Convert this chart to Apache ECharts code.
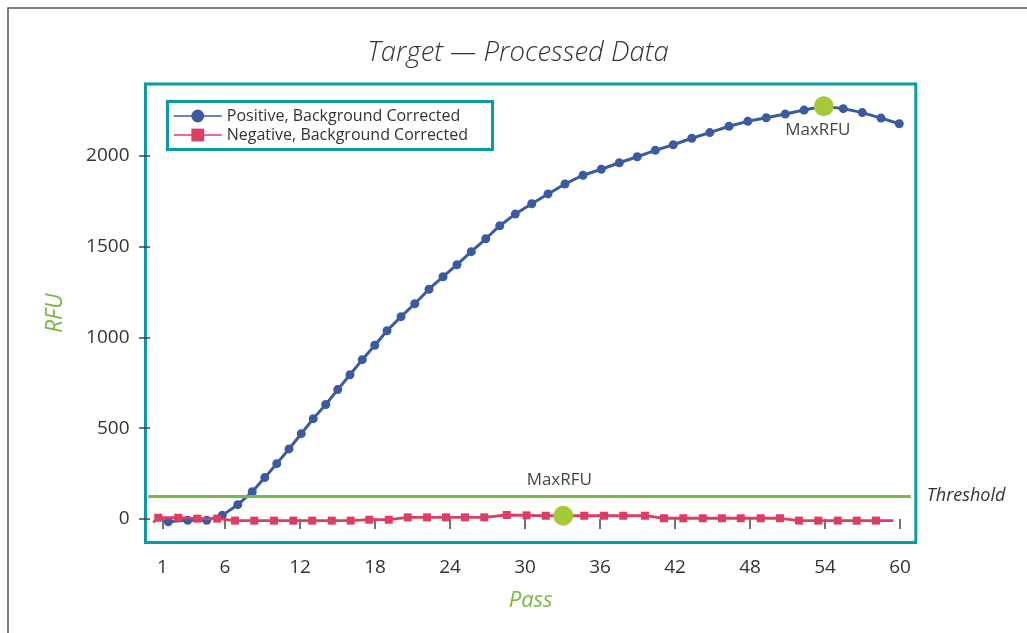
<!DOCTYPE html>
<html><head><meta charset="utf-8">
<script src="https://cdn.jsdelivr.net/npm/echarts@6/dist/echarts.min.js"></script>
<style>html,body{margin:0;padding:0;background:#fff}#c{width:1027px;height:633px}</style>
</head><body><div id="c"></div>
<script>
// ---- data ----
const passTicks = [1, 6, 12, 18, 24, 30, 36, 42, 48, 54, 60];
const rfuTicks = [0, 500, 1000, 1500, 2000];

const positivePass = [1.46,3.02,4.54,5.78,7.02,8.18,9.18,10.14,11.12,12.10,13.06,14.06,15.02,16.0,16.98,17.98,18.96,20.08,21.18,22.32,23.44,24.56,25.70,26.86,27.98,29.22,30.54,31.84,33.2,34.64,36.10,37.54,38.98,40.42,41.86,43.34,44.78,46.32,47.82,49.30,50.82,52.32,53.90,55.46,56.98,58.48,59.94];
const positiveRFU = [-15,-7,-7,20,79,150,228,305,386,470,553,631,713,795,878,957,1037,1115,1186,1266,1335,1401,1473,1544,1616,1680,1737,1791,1846,1894,1927,1963,1996,2031,2062,2098,2129,2164,2191,2211,2231,2253,2274,2261,2239,2209,2178];

const negativePass = [0.66,2.26,3.78,5.38,6.8,8.34,9.92,11.46,12.98,14.54,16.06,17.54,19.10,20.62,22.16,23.68,25.20,26.74,28.54,30.12,31.66,33.06,34.74,36.32,37.86,39.6,41.12,42.66,44.22,45.76,47.26,48.86,50.4,51.92,53.46,55.02,56.54,58.08];
const negativeRFU = [7,7,2,2,-9,-9,-9,-9,-9,-9,-9,-4,-4,9,9,9,9,9,22,20,18,18,18,18,18,18,4,4,4,4,4,4,4,-9,-9,-9,-9,-9];
const negativeLineStart = [0.26, -19];
const negativeLineEnd = [59.46, -9];

const thresholdRFU = 125;
const thresholdPassRange = [-0.14, 60.86];

const maxRFUPass = [53.9, 33.06];
const maxRFUValue = [2274, 18];

const seriesNames = ['Positive, Background Corrected', 'Negative, Background Corrected'];

// ---- styles ----
const FONT = 'Open Sans';
const TEAL = '#0a9aa6';
const BLUE = '#3a5ba0';
const RED = '#dc3d63';
const GREEN = '#78b843';
const DOT = '#a6c93a';
const TXT = '#333';

const posData = positivePass.map((p, i) => [p, positiveRFU[i]]);
const negData = [{ value: negativeLineStart, symbol: 'none' }]
  .concat(negativePass.map((p, i) => [p, negativeRFU[i]]))
  .concat([{ value: negativeLineEnd, symbol: 'none' }]);
const maxLabelOffsets = [[-6, 24], [-4, -36]];
const maxData = maxRFUPass.map((p, i) => ({
  value: [p, maxRFUValue[i]],
  label: { show: true, position: 'inside', offset: maxLabelOffsets[i], formatter: 'MaxRFU',
           fontFamily: FONT, fontSize: 17, color: '#444' }
}));

const chart = echarts.init(document.getElementById('c'), null, { renderer: 'canvas' });
chart.setOption({
  animation: false,
  backgroundColor: '#fff',
  title: {
    text: 'Target — Processed Data', left: 518, top: 40, textAlign: 'center', padding: 0,
    textStyle: { fontFamily: FONT, fontSize: 27.5, fontStyle: 'italic', fontWeight: 300, color: TXT }
  },
  graphic: [
    { type: 'rect', shape: { x: 8, y: 8, width: 1100, height: 700 }, silent: true,
      style: { fill: 'none', stroke: '#555', lineWidth: 1.5 }, z: 100 },
    { type: 'rect', shape: { x: 167.5, y: 101.5, width: 325, height: 48 }, silent: true,
      style: { fill: 'none', stroke: TEAL, lineWidth: 3 }, z: 100 }
  ],
  grid: { left: 145.5, top: 84, width: 770.3, height: 458.5, show: true,
          borderColor: TEAL, borderWidth: 3, backgroundColor: 'transparent' },
  legend: {
    data: seriesNames, orient: 'vertical', left: 173, top: 108, padding: 0,
    itemWidth: 48, itemHeight: 16, itemGap: 3,
    lineStyle: { width: 1.5 },
    textStyle: { fontFamily: FONT, fontSize: 16, color: TXT, lineHeight: 16 }
  },
  xAxis: {
    type: 'value', min: -0.36, max: 61.26,
    axisLine: { show: false }, splitLine: { show: false },
    axisTick: { show: true, customValues: passTicks, length: 10, lineStyle: { color: '#444', width: 1.5 } },
    axisLabel: { customValues: passTicks, fontFamily: FONT, fontSize: 19, color: TXT, margin: 16,
                 formatter: v => String(v) },
    name: 'Pass', nameLocation: 'middle', nameGap: 47,
    nameTextStyle: { fontFamily: FONT, fontSize: 22, fontStyle: 'italic', color: GREEN }
  },
  yAxis: {
    type: 'value', min: -129.5, max: 2396.7,
    axisLine: { show: false }, splitLine: { show: false },
    axisTick: { show: true, customValues: rfuTicks, length: 11, lineStyle: { color: '#444', width: 1.5 } },
    axisLabel: { customValues: rfuTicks, fontFamily: FONT, fontSize: 19, color: TXT, margin: 16,
                 formatter: v => String(v) },
    name: 'RFU', nameLocation: 'middle', nameGap: 79,
    nameTextStyle: { fontFamily: FONT, fontSize: 23, fontStyle: 'italic', color: GREEN }
  },
  series: [
    { name: seriesNames[0], type: 'line', data: posData, symbol: 'circle', symbolSize: 9, showSymbol: true,
      lineStyle: { color: BLUE, width: 3 }, itemStyle: { color: BLUE, borderWidth: 0 }, z: 2 },
    { name: seriesNames[1], type: 'line', data: negData, symbol: 'rect', symbolSize: 8, showSymbol: true,
      lineStyle: { color: RED, width: 2.8 }, itemStyle: { color: RED, borderWidth: 0 }, z: 3 },
    { name: 'MaxRFU', type: 'scatter', data: maxData, symbol: 'circle', symbolSize: 20,
      itemStyle: { color: DOT, opacity: 1 }, z: 4,
      markLine: {
        silent: true, symbol: ['none', 'none'],
        lineStyle: { color: GREEN, width: 3, type: 'solid' },
        label: { show: true, position: 'end', formatter: 'Threshold', distance: 16,
                 fontFamily: FONT, fontSize: 18, fontStyle: 'italic', color: TXT },
        data: [[{ coord: [thresholdPassRange[0], thresholdRFU] }, { coord: [thresholdPassRange[1], thresholdRFU] }]]
      }
    }
  ]
});
</script>
</body></html>
